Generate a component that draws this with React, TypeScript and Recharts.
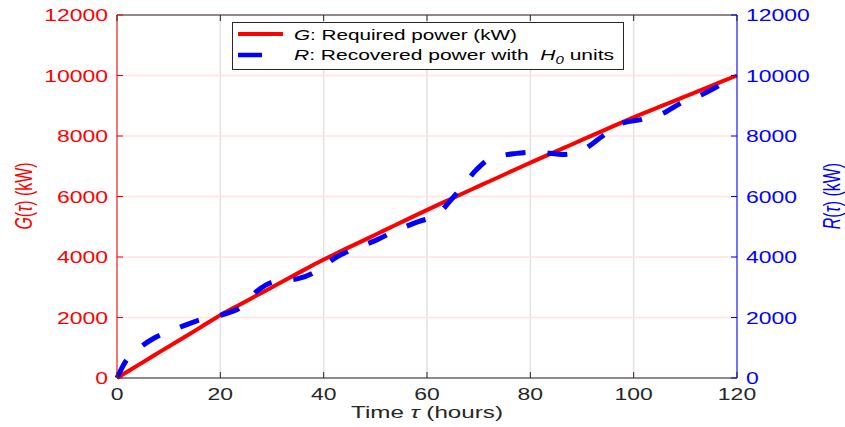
import React from "react";
import {
  CartesianGrid,
  ComposedChart,
  Line,
  ReferenceLine,
  XAxis,
  YAxis,
} from "recharts";

const FONT = "'Liberation Sans', Arial, Helvetica, sans-serif";
const SX = 1.35; // text in the original is stretched horizontally
const PLOT_TOP = 15;

const hours = [
  0, 1.5, 4.4, 7.3, 11.8, 15.6, 20.3, 23.8, 27, 30.1, 35.4, 38.8, 42.5, 46,
  50.4, 53.7, 58.5, 62, 64.7, 66.9, 69.6, 72, 77.3, 81, 86.6, 90, 94, 97.2,
  101.6, 105.3, 109.4, 113, 117, 120,
];

// G: required power (kW)
const requiredPower = [
  0, 157, 460, 760, 1225, 1615, 2110, 2430, 2725, 3010, 3500, 3810, 4125, 4410,
  4770, 5040, 5435, 5715, 5925, 6100, 6310, 6495, 6910, 7195, 7615, 7870, 8170,
  8410, 8730, 8985, 9270, 9515, 9795, 10000,
];

// R: recovered power with H0 units (kW)
const recoveredPower = [
  0, 500, 1000, 1330, 1650, 1900, 2090, 2320, 2860, 3170, 3300, 3550, 4000,
  4275, 4575, 4850, 5180, 5400, 5900, 6340, 6890, 7225, 7425, 7470, 7390, 7535,
  8000, 8390, 8550, 8720, 9110, 9350, 9710, 10000,
];

const xTicks = [0, 20, 40, 60, 80, 100, 120];
const yTicks = [0, 2000, 4000, 6000, 8000, 10000, 12000];

const data = hours.map((t, i) => ({
  t,
  G: requiredPower[i],
  R: recoveredPower[i],
}));

const XTick = (p: any) => {
  const { x, y, payload } = p;
  return (
    <g>
      <line x1={x} x2={x} y1={y} y2={y - 6} stroke="#262626" />
      <line x1={x} x2={x} y1={PLOT_TOP} y2={PLOT_TOP + 6} stroke="#262626" />
      <text
        transform={`translate(${x},${y + 22}) scale(${SX},1)`}
        textAnchor="middle"
        fontSize={17}
        fontFamily={FONT}
        fill="#262626"
      >
        {payload.value}
      </text>
    </g>
  );
};

const LeftTick = (p: any) => {
  const { x, y, payload } = p;
  return (
    <g>
      <line x1={x} x2={x + 6} y1={y} y2={y} stroke="#ff0000" />
      <text
        transform={`translate(${x - 9},${y + 6}) scale(${SX},1)`}
        textAnchor="end"
        fontSize={17}
        fontFamily={FONT}
        fill="#ff0000"
      >
        {payload.value}
      </text>
    </g>
  );
};

const RightTick = (p: any) => {
  const { x, y, payload } = p;
  return (
    <g>
      <line x1={x} x2={x - 6} y1={y} y2={y} stroke="#0000ff" />
      <text
        transform={`translate(${x + 9},${y + 6}) scale(${SX},1)`}
        textAnchor="start"
        fontSize={17}
        fontFamily={FONT}
        fill="#0000ff"
      >
        {payload.value}
      </text>
    </g>
  );
};

const xTitle = (p: any) => {
  const vb = p.viewBox || { x: 117, y: 378, width: 620 };
  return (
    <text
      x={vb.x + vb.width / 2}
      y={vb.y + 40}
      textAnchor="middle"
      fontSize={17}
      fontFamily={FONT}
      fill="#262626"
      textLength={152}
      lengthAdjust="spacingAndGlyphs"
    >
      Time <tspan fontStyle="italic">τ</tspan> (hours)
    </text>
  );
};

const yTitle = (letter: string, color: string, cx: number) => (
  <text
    transform={`translate(${cx},196) rotate(-90) scale(1,1.45)`}
    textAnchor="middle"
    fontSize={16}
    fontFamily={FONT}
    fill={color}
  >
    <tspan fontStyle="italic">{letter}</tspan>(<tspan fontStyle="italic">τ</tspan>) (kW)
  </text>
);

const leftTitle = () => yTitle("G", "#ff0000", 32);
const rightTitle = () => yTitle("R", "#0000ff", 840);

function LegendBox() {
  return (
    <svg
      width={845}
      height={427}
      style={{ position: "absolute", left: 0, top: 0, pointerEvents: "none" }}
    >
      <rect x={232.5} y={22.5} width={391} height={47} fill="#ffffff" stroke="#262626" />
      <line x1={238} x2={283} y1={34} y2={34} stroke="#ff0000" strokeWidth={4} />
      <line x1={238} x2={262} y1={55} y2={55} stroke="#0000ff" strokeWidth={4.5} />
      <text
        x={294}
        y={40}
        fontSize={14}
        fontFamily={FONT}
        fill="#000"
        textLength={223}
        lengthAdjust="spacingAndGlyphs"
      >
        <tspan fontStyle="italic">G</tspan>: Required power (kW)
      </text>
      <text
        x={294}
        y={60}
        fontSize={14}
        fontFamily={FONT}
        fill="#000"
        textLength={320}
        lengthAdjust="spacingAndGlyphs"
      >
        <tspan fontStyle="italic">R</tspan>: Recovered power with{"\u00a0\u00a0"}
        <tspan fontStyle="italic">H</tspan>
        <tspan fontStyle="italic" fontSize={10} dy={4}>0</tspan>
        <tspan dy={-4}> units</tspan>
      </text>
    </svg>
  );
}

export default function App() {
  return (
    <div
      style={{
        position: "absolute",
        left: 0,
        top: 0,
        width: 845,
        height: 427,
        background: "#ffffff",
        fontFamily: FONT,
      }}
    >
      <ComposedChart
        width={845}
        height={427}
        data={data}
        margin={{ top: PLOT_TOP, right: 0, bottom: 0, left: 0 }}
      >
        <CartesianGrid yAxisId="left" horizontal={false} stroke="#e2e2e2" strokeWidth={1.5} />
        <CartesianGrid yAxisId="left" vertical={false} stroke="#ffe2e2" strokeWidth={1.5} />
        <XAxis
          dataKey="t"
          type="number"
          domain={[0, 120]}
          ticks={xTicks}
          interval={0}
          height={49}
          stroke="#262626"
          tickLine={false}
          tickSize={0}
          tickMargin={0}
          tick={XTick}
          label={xTitle}
        />
        <YAxis
          yAxisId="left"
          domain={[0, 12000]}
          ticks={yTicks}
          interval={0}
          width={117}
          stroke="#ff0000"
          tickLine={false}
          tickSize={0}
          tickMargin={0}
          tick={LeftTick}
          label={leftTitle}
        />
        <YAxis
          yAxisId="right"
          orientation="right"
          domain={[0, 12000]}
          ticks={yTicks}
          interval={0}
          width={108}
          stroke="#0000ff"
          tickLine={false}
          tickSize={0}
          tickMargin={0}
          tick={RightTick}
          label={rightTitle}
        />
        <ReferenceLine yAxisId="left" y={12000} stroke="#262626" />
        <Line
          yAxisId="left"
          dataKey="G"
          type="monotone"
          stroke="#ff0000"
          strokeWidth={4}
          dot={false}
          isAnimationActive={false}
        />
        <Line
          yAxisId="right"
          dataKey="R"
          type="monotone"
          stroke="#0000ff"
          strokeWidth={5}
          strokeDasharray="20 22"
          dot={false}
          isAnimationActive={false}
        />
      </ComposedChart>
      <LegendBox />
    </div>
  );
}
